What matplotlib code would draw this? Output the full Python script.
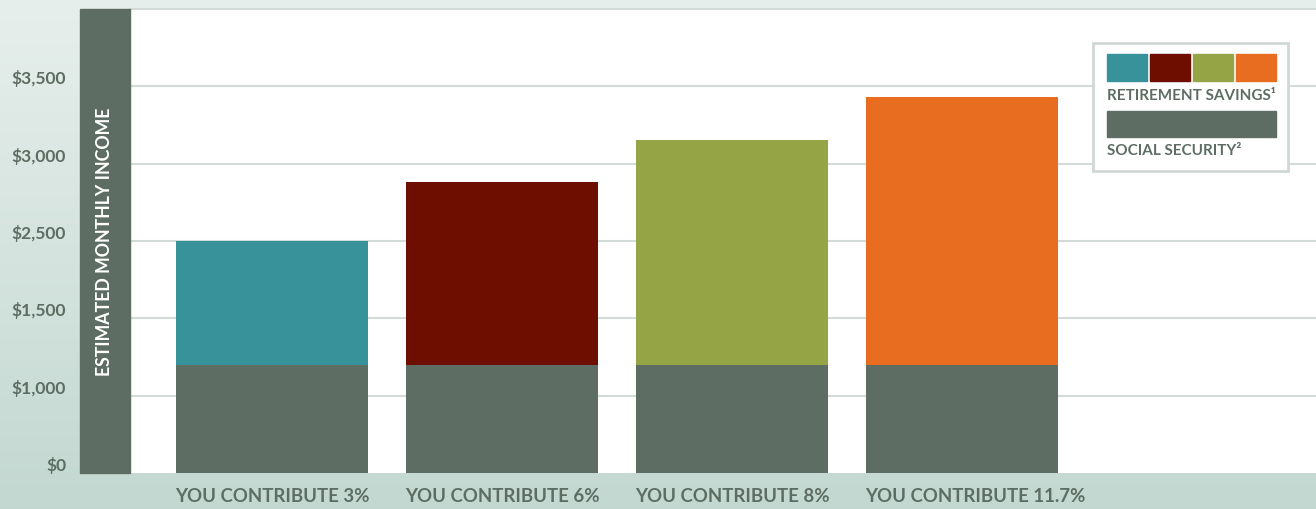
import numpy as np
import matplotlib
matplotlib.use("Agg")
import matplotlib.pyplot as plt
from matplotlib.patches import Rectangle

# data
categories = ["YOU CONTRIBUTE 3%", "YOU CONTRIBUTE 6%", "YOU CONTRIBUTE 8%", "YOU CONTRIBUTE 11.7%"]
social_security = [1200, 1200, 1200, 1200]
total_income = [2500, 2880, 3150, 3430]
savings_colors = ["#37929a", "#6e0e00", "#95a546", "#e96d20"]
# the original axis puts its labels at even spacing
tick_values = [0, 1000, 1500, 2500, 3000, 3500]
tick_labels = ["$0", "$1,000", "$1,500", "$2,500", "$3,000", "$3,500"]

gray = "#5d6d63"
grid_c = "#d3dbd8"
plt.rcParams["font.family"] = ["Lato", "DejaVu Sans"]

W, H = 1316, 510
fig = plt.figure(figsize=(W / 100, H / 100), dpi=100)

# background gradient
bg = fig.add_axes([0, 0, 1, 1], zorder=-5)
grad = np.linspace(0, 1, 256).reshape(-1, 1)
top = np.array([0.905, 0.937, 0.925])
bot = np.array([0.765, 0.847, 0.820])
img = top[None, None, :] * (1 - grad[:, :, None]) + bot[None, None, :] * grad[:, :, None]
bg.imshow(img, aspect="auto", extent=[0, 1, 0, 1])
bg.set_xlim(0, 1)
bg.set_ylim(0, 1)
bg.axis("off")

# left label band
fig.patches.append(Rectangle((80 / W, (H - 474) / H), 50 / W, 464 / H,
                             transform=fig.transFigure, color=gray, zorder=1))
fig.text(105 / W, (H - 242) / H, "ESTIMATED MONTHLY INCOME", rotation=90,
         color="white", fontsize=12.8, fontweight="bold", ha="center", va="center")

ax = fig.add_axes([130 / W, (H - 474) / H, (W - 130) / W, 464 / H])
ax.set_facecolor("white")

scale_vals = tick_values + [4000]
steps = list(range(len(scale_vals)))
fwd = lambda v: np.interp(v, scale_vals, steps)
inv = lambda s: np.interp(s, steps, scale_vals)
ax.set_yscale("function", functions=(fwd, inv))
ax.set_ylim(0, 4000)

x = np.arange(len(categories))
bw = 192 / 230
savings = [t - s for t, s in zip(total_income, social_security)]
ax.bar(x, social_security, width=bw, color=gray, zorder=3)
ax.bar(x, savings, bottom=social_security, width=bw, color=savings_colors, zorder=3)
ax.set_xlim(-142 / 230, (W - 272) / 230)

ax.set_yticks(tick_values)
ax.set_yticklabels(tick_labels, va="bottom")
ax.tick_params(axis="y", length=0, pad=46, labelsize=12.5, labelcolor=gray)
for lab in ax.get_yticklabels():
    lab.set_fontweight("bold")
for v in tick_values[1:] + [4000]:
    ax.axhline(v, color=grid_c, lw=1.5, zorder=1, clip_on=False)

ax.set_xticks([])
for i, c in enumerate(categories):
    ax.text(i - bw / 2 - 0.005, -23 / 464, c, transform=ax.get_xaxis_transform(),
            ha="left", va="center", fontsize=13.4, fontweight="bold", color=gray)
for s in ax.spines.values():
    s.set_visible(False)

# legend box
lx = lambda px: px / W
ly = lambda py: (H - py) / H
fig.patches.append(Rectangle((lx(1093), ly(172)), 195 / W, 128 / H, transform=fig.transFigure,
                             facecolor="white", edgecolor="#d0d8d5", lw=2, zorder=5))
for i, c in enumerate(savings_colors):
    fig.patches.append(Rectangle((lx(1107 + 43 * i), ly(82)), 40 / W, 27 / H,
                                 transform=fig.transFigure, color=c, zorder=6))
fig.patches.append(Rectangle((lx(1107), ly(138)), 169 / W, 26 / H,
                             transform=fig.transFigure, color=gray, zorder=6))
fig.text(lx(1107), ly(96), "RETIREMENT SAVINGS\u00b9", fontsize=11, fontweight="bold",
         color=gray, ha="left", va="center", zorder=7)
fig.text(lx(1107), ly(151), "SOCIAL SECURITY\u00b2", fontsize=11, fontweight="bold",
         color=gray, ha="left", va="center", zorder=7)

fig.savefig("out.png", dpi=100)
